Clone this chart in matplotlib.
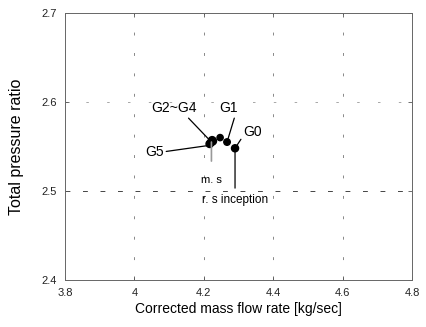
import matplotlib
matplotlib.use("Agg")
import matplotlib.pyplot as plt

# Operating points (corrected mass flow, total pressure ratio)
labels = ["G5", "G2", "G3", "G4", "Gm", "G1", "G0"]
mass_flow = [4.217, 4.222, 4.224, 4.226, 4.247, 4.267, 4.290]
pressure_ratio = [2.553, 2.555, 2.557, 2.556, 2.560, 2.555, 2.548]
marker_sizes = [28, 28, 28, 28, 20, 22, 26]

x_ticks = [3.8, 4.0, 4.2, 4.4, 4.6, 4.8]
x_tick_labels = ["3.8", "4", "4.2", "4.4", "4.6", "4.8"]
y_ticks = [2.4, 2.5, 2.6, 2.7]
y_tick_labels = ["2.4", "2.5", "2.6", "2.7"]

plt.rcParams["font.family"] = ["Liberation Sans", "DejaVu Sans"]

fig = plt.figure(figsize=(4.26, 3.27), dpi=100)
ax = fig.add_axes([65 / 426, 1 - 280 / 327, 347 / 426, 267 / 327])

ax.set_xlim(3.8, 4.8)
ax.set_ylim(2.4, 2.7)
ax.set_xticks(x_ticks)
ax.set_xticklabels(x_tick_labels)
ax.set_yticks(y_ticks)
ax.set_yticklabels(y_tick_labels)
ax.tick_params(direction="in", length=3, width=0.6, colors="#555555",
               labelcolor="#222222", labelsize=8, top=True, right=True, pad=6)

for side in ax.spines.values():
    side.set_linewidth(0.7)
    side.set_color("#666666")

# sparse dashed grid
for xv in x_ticks[1:-1]:
    ax.axvline(xv, color="#888888", lw=0.7, dashes=(3, 18), zorder=0)
ax.axhline(2.6, color="#999999", lw=0.6, dashes=(3, 22), zorder=0)
ax.axhline(2.5, color="#444444", lw=0.7, dashes=(5, 13), zorder=0)

ax.scatter(mass_flow, pressure_ratio, s=marker_sizes, color="black", zorder=3)

i_g5, i_g2, i_g1, i_g0 = 0, 1, 5, 6
line_kw = dict(arrowstyle="-", color="black", lw=0.9, shrinkA=0, shrinkB=0)
txt_kw = dict(fontsize=10, color="black")

ax.annotate("G2~G4", xy=(mass_flow[i_g2], pressure_ratio[i_g2]),
            xytext=(4.05, 2.585), ha="left", va="bottom",
            arrowprops=dict(line_kw, relpos=(0.75, 0.0)), **txt_kw)
ax.annotate("G5", xy=(mass_flow[i_g5] - 0.006, pressure_ratio[i_g5] - 0.002),
            xytext=(4.03, 2.544), ha="left", va="center",
            arrowprops=dict(line_kw, relpos=(1.0, 0.5)), **txt_kw)
ax.annotate("G1", xy=(mass_flow[i_g1], pressure_ratio[i_g1]),
            xytext=(4.245, 2.585), ha="left", va="bottom",
            arrowprops=dict(line_kw, relpos=(0.85, 0.0)), **txt_kw)
ax.annotate("G0", xy=(mass_flow[i_g0], pressure_ratio[i_g0]),
            xytext=(4.315, 2.566), ha="left", va="center",
            arrowprops=dict(line_kw, relpos=(0.0, 0.3)), **txt_kw)

ax.annotate("m. s", xy=(mass_flow[i_g2], pressure_ratio[i_g2]),
            xytext=(mass_flow[i_g2], 2.518), ha="center", va="top",
            fontsize=8, arrowprops=dict(line_kw, color="#999999", lw=1.2,
                                        relpos=(0.5, 1.0), shrinkA=8))
ax.annotate("r. s inception", xy=(mass_flow[i_g0], pressure_ratio[i_g0]),
            xytext=(mass_flow[i_g0], 2.497), ha="center", va="top",
            fontsize=8.5, arrowprops=dict(line_kw, relpos=(0.5, 1.0), shrinkA=2))

ax.set_xlabel("Corrected mass flow rate [kg/sec]", fontsize=10, labelpad=3)
ax.set_ylabel("Total pressure ratio", fontsize=11.5, labelpad=12)

fig.savefig("out.png", dpi=100)
